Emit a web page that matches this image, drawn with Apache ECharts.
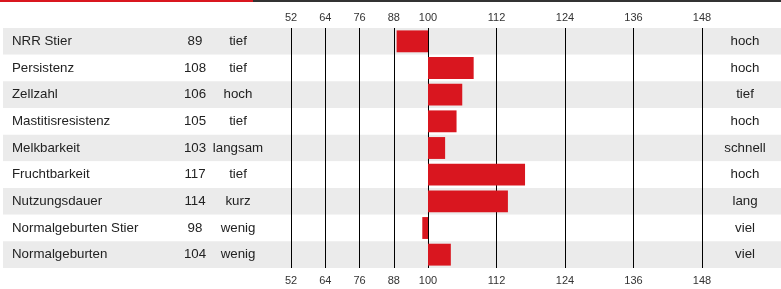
<!DOCTYPE html>
<html>
<head>
<meta charset="utf-8">
<script src="https://cdn.jsdelivr.net/npm/echarts@6/dist/echarts.min.js"></script>
<style>
  html, body { margin: 0; padding: 0; background: #fff; }
  #chart { width: 781px; height: 289px; }
</style>
</head>
<body>
<div id="chart"></div>
<script>
const traits = ["NRR Stier", "Persistenz", "Zellzahl", "Mastitisresistenz", "Melkbarkeit",
  "Fruchtbarkeit", "Nutzungsdauer", "Normalgeburten Stier", "Normalgeburten"];
const values = [89, 108, 106, 105, 103, 117, 114, 98, 104];
const lowLabels = ["tief", "tief", "hoch", "tief", "langsam", "tief", "kurz", "wenig", "wenig"];
const highLabels = ["hoch", "hoch", "tief", "hoch", "schnell", "hoch", "lang", "viel", "viel"];
const BASE = 100;
const RED = "#d9161f";
const FONT = "Liberation Sans, Arial, sans-serif";
const LABEL_SIZE = 13.3;

const chart = echarts.init(document.getElementById("chart"));

// bar from the base value (100) to the trait value
function renderBar(params, api) {
  const cat = api.value(1);
  const p1 = api.coord([api.value(0), cat]);
  const p0 = api.coord([BASE, cat]);
  const h = api.size([0, 1])[1] * 0.82;
  return {
    type: "rect",
    shape: { x: Math.min(p0[0], p1[0]), y: p1[1] - h / 2, width: Math.abs(p1[0] - p0[0]), height: h },
    style: { fill: RED }
  };
}

const lowData = [], highData = [];
values.forEach((v, i) => (v < BASE ? lowData : highData).push([v, i]));

const hiddenCat = (grid) => ({
  type: "category", gridIndex: grid, data: traits, inverse: true,
  axisLine: { show: false }, axisTick: { show: false }, axisLabel: { show: false }
});

const valAxis = (grid, pos, min, max, split, hideMax) => ({
  type: "value", gridIndex: grid, position: pos, min: min, max: max, interval: 12,
  axisLine: { show: false }, axisTick: { show: false },
  axisLabel: { color: "#333", fontSize: 11, fontFamily: FONT, margin: pos === "top" ? 5 : 7, showMaxLabel: !hideMax },
  splitLine: { show: split, lineStyle: { color: "#000", width: 1 } }
});

const txt = (w) => ({ width: w, align: "center", fontSize: LABEL_SIZE, color: "#222", fontFamily: FONT });

chart.setOption({
  animation: false,
  textStyle: { fontFamily: FONT },
  graphic: [
    { type: "rect", shape: { x: 0, y: 0, width: 253, height: 2 }, style: { fill: "#d9161f" } },
    { type: "rect", shape: { x: 253, y: 0, width: 528, height: 2 }, style: { fill: "#333" } }
  ],
  grid: [
    { left: 3, right: 0, top: 28, height: 240 },
    { left: 291, width: 137, top: 28, height: 240 },
    { left: 428, width: 274, top: 28, height: 240 }
  ],
  xAxis: [
    { type: "value", gridIndex: 0, show: false },
    valAxis(1, "top", 52, 100, true, true),
    valAxis(1, "bottom", 52, 100, false, true),
    valAxis(2, "top", 100, 148, true, false),
    valAxis(2, "bottom", 100, 148, false, false)
  ],
  yAxis: [
    {
      type: "category", gridIndex: 0, data: traits, inverse: true, position: "left",
      axisLine: { show: false }, axisTick: { show: false },
      splitArea: { show: true, areaStyle: { color: ["#ebebeb", "#ffffff"] } },
      axisLabel: {
        inside: true, margin: 9,
        formatter: (name, i) => `{n|${name}}{v|${values[i]}}{d|${lowLabels[i]}}`,
        rich: {
          n: Object.assign(txt(166), { align: "left" }),
          v: txt(34),
          d: txt(52)
        }
      }
    },
    {
      type: "category", gridIndex: 0, data: highLabels, inverse: true, position: "right",
      axisLine: { show: false }, axisTick: { show: false },
      axisLabel: {
        inside: true, margin: 6,
        formatter: (t) => `{h|${t}}`,
        rich: { h: txt(60) }
      }
    },
    hiddenCat(1),
    hiddenCat(2)
  ],
  series: [
    { type: "custom", xAxisIndex: 1, yAxisIndex: 2, renderItem: renderBar, data: lowData, z: 3 },
    { type: "custom", xAxisIndex: 3, yAxisIndex: 3, renderItem: renderBar, data: highData, z: 3 }
  ]
});
</script>
</body>
</html>
